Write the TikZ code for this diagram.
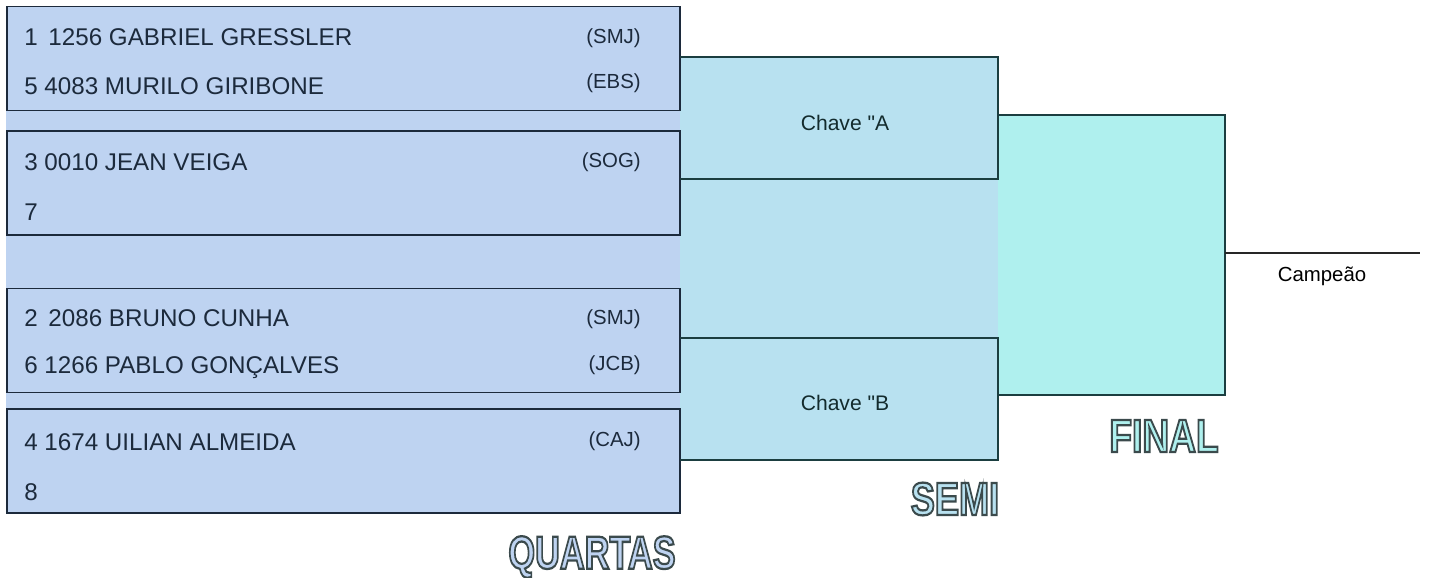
\documentclass[tikz,border=0pt]{standalone}
\usepackage{fontspec}
\setmainfont{Liberation Sans}
\newfontfamily\keyfont{Liberation Sans}[Ligatures=ResetAll] % keeps the straight quote
\usetikzlibrary{positioning, backgrounds}
\definecolor{quartasblue}{HTML}{BED3F1}
\definecolor{semiblue}{HTML}{B8E1F0}
\definecolor{finalblue}{HTML}{AFF0EE}
\definecolor{quartasline}{HTML}{1C2A3C}
\definecolor{semiline}{HTML}{1B3E40}
% outlined title text: fill in the current colour, stroke in dark grey
\newcommand{\outlined}[1]{\special{pdf:literal direct 2 Tr 1.6 w 0.23 0.29 0.30 RG}#1\special{pdf:literal direct 0 Tr}}
\tikzset{
x=0.025cm, y=-0.025cm, % one unit is one pixel of the layout
qbox/.style={draw=quartasline, line width=1.3pt, minimum width=16.825cm, minimum height=2.6cm}, % a quarter-final pair
sbox/.style={minimum width=7.95cm, minimum height=3.05cm}, % a semi-final key
fbox/.style={minimum width=5.675cm, minimum height=7cm}, % the final
sline/.style={draw=semiline, line width=1.3pt}, % bracket lines
player/.style={anchor=west, inner sep=0pt, text=quartasline, font=\fontsize{17.2}{19}\selectfont},
club/.style={anchor=east, inner sep=0pt, text=quartasline, font=\fontsize{14.5}{16}\selectfont},
keytext/.style={inner sep=0pt, text=semiline!70!black, font=\keyfont\fontsize{15}{17}\selectfont},
stage/.style={inner sep=0pt, font=\bfseries\fontsize{33}{36}\selectfont}, % outlined round titles
}

\begin{document}
\begin{tikzpicture}
    \useasboundingbox (0,0) rectangle (1429,578);

    % quartas
    \node[qbox] (q1) at (343.5,58.5) {};
    \node[qbox] (q2) at (343.5,183) {};
    \node[qbox] (q3) at (343.5,340.5) {};
    \node[qbox] (q4) at (343.5,461) {};

    \node[player] (p1) at (24,37) {1 \,1256 GABRIEL GRESSLER};
    \node[player] (p5) at (24,86) {5 4083 MURILO GIRIBONE};
    \node[player] (p3) at (24,162) {3 0010 JEAN VEIGA};
    \node[player] (p7) at (24,212) {7};
    \node[player] (p2) at (24,318) {2 \,2086 BRUNO CUNHA};
    \node[player] (p6) at (24,368) {6 1266 PABLO GONÇALVES};
    \node[player] (p4) at (24,442) {4 1674 UILIAN ALMEIDA};
    \node[player] (p8) at (24,492) {8};

    \node[club] (c1) at (641,38) {(SMJ)};
    \node[club] (c5) at (641,83) {(EBS)};
    \node[club] (c3) at (641,162) {(SOG)};
    \node[club] (c2) at (641,319) {(SMJ)};
    \node[club] (c6) at (641,365) {(JCB)};
    \node[club] (c4) at (641,441) {(CAJ)};

    % semi
    \node[sbox] (sA) at (839,118) {};
    \node[sbox] (sB) at (839,399) {};
    \draw[sline] (sA.north west) -- (sA.north east) -- (sA.south east) -- (sA.south west);
    \draw[sline] (sB.north west) -- (sB.north east) -- (sB.south east) -- (sB.south west);
    \node[keytext] (kA) at (845,123) {Chave "A};
    \node[keytext] (kB) at (845,403) {Chave "B};

    % final
    \node[fbox] (fin) at (1111.5,255) {};
    \draw[sline] (fin.north west) -- (fin.north east) -- (fin.south east) -- (fin.south west);
    \coordinate (champ) at (1420,253);
    \draw[line width=1.3pt, draw=black!85] (fin.east |- champ) -- (champ);
    \node[inner sep=0pt, font=\fontsize{14.5}{16}\selectfont] (camp) at (1322,276) {Campeão};

    % titles
    \node[stage, text=quartasblue] (tq) at (592,557) {\scalebox{0.74}[1]{\outlined{QUARTAS}}};
    \node[stage, text=semiblue] (ts) at (955,499) {\scalebox{0.78}[1]{\outlined{SEMI}}};
    \node[stage, text=finalblue] (tf) at (1164,436) {\scalebox{0.8}[1]{\outlined{FINAL}}};

    \begin{scope}[on background layer]
        \fill[quartasblue] (q1.north west) rectangle (q4.south east);
        \fill[semiblue] (sA.north west) rectangle (sB.south east);
        \fill[finalblue] (fin.north west) rectangle (fin.south east);
    \end{scope}
\end{tikzpicture}
\end{document}
